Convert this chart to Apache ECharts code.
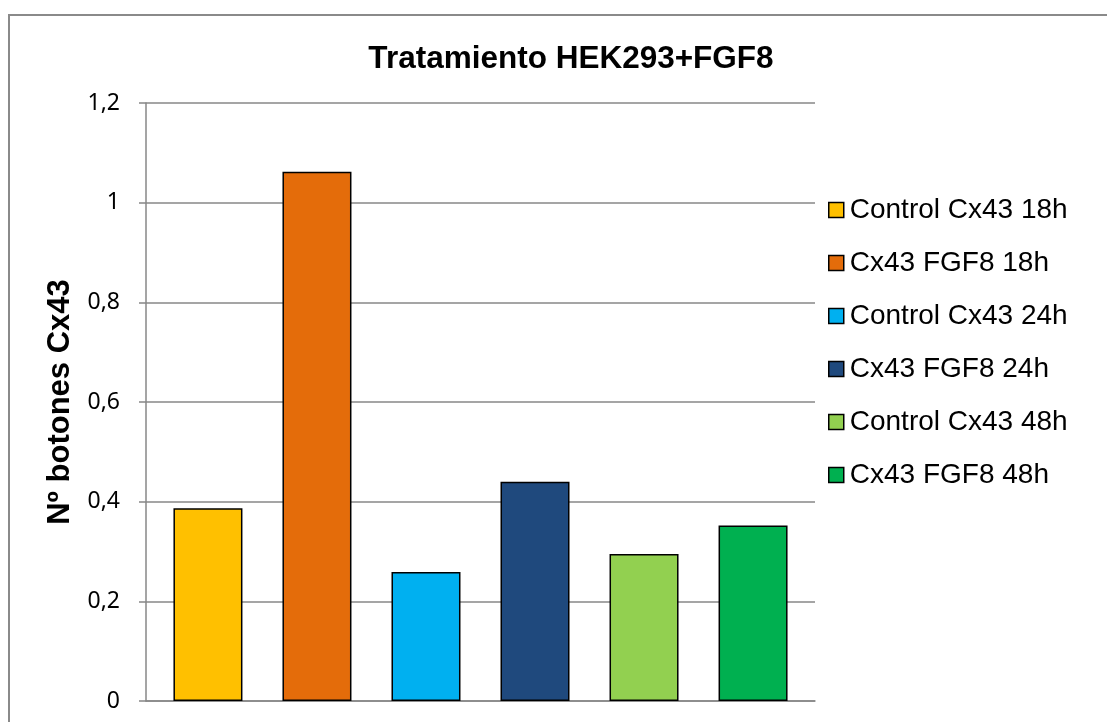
<!DOCTYPE html>
<html>
<head>
<meta charset="utf-8">
<script src="https://cdn.jsdelivr.net/npm/echarts@6/dist/echarts.min.js"></script>
<style>
html,body{margin:0;padding:0;background:#fff;}
#chart{width:1107px;height:722px;}
</style>
</head>
<body>
<div id="chart"></div>
<script>
const chartTitle = 'Tratamiento HEK293+FGF8';
const yAxisTitle = 'Nº botones Cx43';
const seriesNames = ['Control Cx43 18h', 'Cx43 FGF8 18h', 'Control Cx43 24h', 'Cx43 FGF8 24h', 'Control Cx43 48h', 'Cx43 FGF8 48h'];
const seriesValues = [0.387, 1.062, 0.259, 0.440, 0.295, 0.352];
const seriesColors = ['#FFC000', '#E46C0A', '#00B0F0', '#1F497D', '#92D050', '#00B050'];
const yTickLabels = ['0', '0,2', '0,4', '0,6', '0,8', '1', '1,2'];

const chart = echarts.init(document.getElementById('chart'), null, {renderer: 'canvas'});
const gridColor = '#878787';

const series = seriesNames.map((name, i) => ({
  name: name,
  type: 'bar',
  data: [seriesValues[i]],
  barWidth: 69,
  barGap: '58%',
  itemStyle: {color: seriesColors[i], borderColor: '#000', borderWidth: 1.5},
  emphasis: {disabled: true}
}));

chart.setOption({
  animation: false,
  backgroundColor: '#fff',
  graphic: [{
    type: 'rect',
    shape: {x: 9, y: 15, width: 1200, height: 900},
    style: {fill: 'none', stroke: '#8a8a8a', lineWidth: 2},
    silent: true
  }],
  title: {
    text: chartTitle,
    left: 566,
    textAlign: 'center',
    top: 38,
    textStyle: {fontFamily: 'Liberation Sans', fontWeight: 'bold', fontSize: 31.5, color: '#000'}
  },
  legend: {
    orient: 'vertical',
    left: 828,
    top: 196,
    padding: 0,
    itemWidth: 15,
    itemHeight: 15,
    itemGap: 25,
    icon: 'rect',
    selectedMode: false,
    itemStyle: {borderColor: '#000', borderWidth: 1.5},
    textStyle: {fontFamily: 'Liberation Sans', fontSize: 28, color: '#000', padding: [0, 0, 0, 1]},
    data: seriesNames
  },
  grid: {left: 146, right: 292, top: 103, bottom: 21, containLabel: false},
  xAxis: {
    type: 'category',
    data: [''],
    axisLine: {show: true, lineStyle: {color: gridColor, width: 1.5}},
    axisTick: {show: false},
    axisLabel: {show: false},
    splitLine: {show: false}
  },
  yAxis: {
    type: 'value',
    min: 0,
    max: 1.2,
    interval: 0.2,
    name: yAxisTitle,
    nameLocation: 'middle',
    nameRotate: 90,
    nameGap: 70,
    nameTextStyle: {fontFamily: 'Liberation Sans', fontWeight: 'bold', fontSize: 31, color: '#000'},
    axisLine: {show: true, lineStyle: {color: gridColor, width: 1.5}},
    axisTick: {show: true, length: 7, lineStyle: {color: gridColor, width: 1.5}},
    axisLabel: {
      margin: 26,
      fontFamily: 'Noto Sans',
      fontSize: 23,
      color: '#000',
      formatter: function (v, idx) { return yTickLabels[idx]; }
    },
    splitLine: {show: true, lineStyle: {color: gridColor, width: 1.5}}
  },
  series: series
});
</script>
</body>
</html>
